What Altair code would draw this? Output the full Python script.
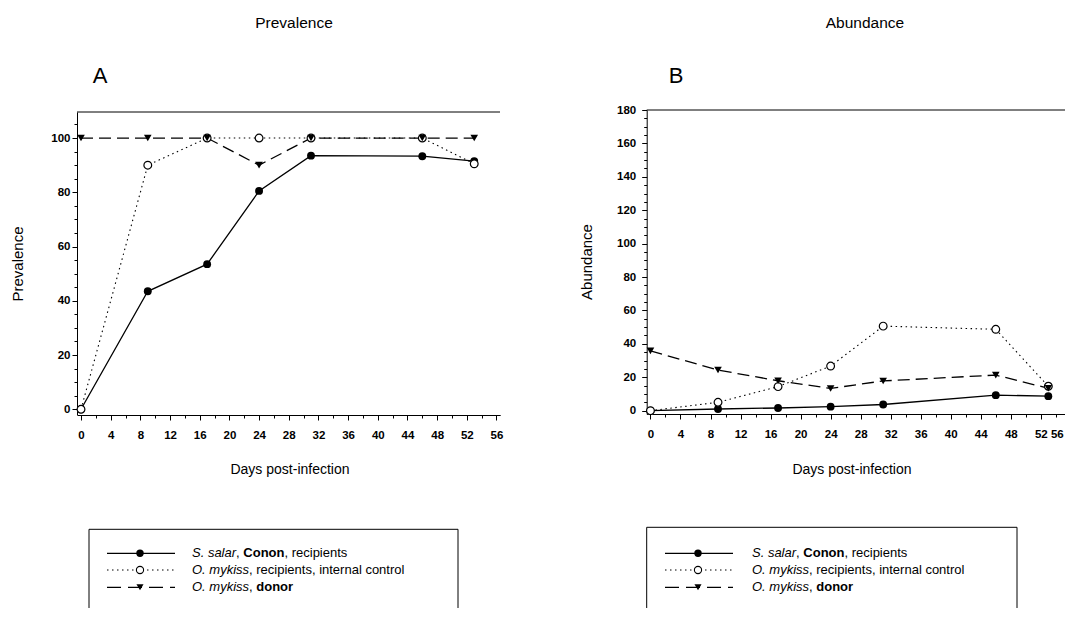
import altair as alt
import pandas as pd

# ---------------- data ----------------
days = [0, 9, 17, 24, 31, 46, 53]

prev_salar = [0, 43.5, 53.5, 80.5, 93.5, 93.3, 91.5]
prev_mykiss = [0, 90, 100, 100, 100, 100, 90.5]
prev_donor = [100, 100, 100, 90, 100, 100, 100]

abun_salar = [0, 1, 1.6, 2.4, 3.7, 9.3, 8.7]
abun_mykiss = [0, 5, 14.4, 26.7, 50.6, 48.7, 14.6]
abun_donor = [35.8, 24.3, 17.9, 13.3, 17.8, 21.3, 13.4]

x_ticks = list(range(0, 57, 2))
prev_ticks = list(range(0, 111, 5))
abun_ticks = list(range(0, 181, 5))

legend_rows = [
    [("S. salar", "italic", "normal"), (", ", "normal", "normal"),
     ("Conon", "normal", "bold"), (", recipients", "normal", "normal")],
    [("O. mykiss", "italic", "normal"),
     (", recipients, internal control", "normal", "normal")],
    [("O. mykiss", "italic", "normal"), (", ", "normal", "normal"),
     ("donor", "normal", "bold")],
]

FONT = "Liberation Sans"
W, H = 1057, 600

# Arial / Liberation Sans advance widths (1/1000 em)
REG = dict(zip(" ,.-SOCabcdefghijklmnopqrstuvwxyz",
               [278, 278, 278, 333, 667, 778, 722, 556, 556, 500, 556, 556, 278, 556,
                556, 222, 222, 500, 222, 833, 556, 556, 556, 556, 333, 500, 278, 556,
                500, 722, 500, 500, 500]))
BOLD = dict(zip(" ,.-SOCabcdefghijklmnopqrstuvwxyz",
                [278, 278, 278, 333, 667, 778, 722, 556, 611, 556, 611, 556, 333, 611,
                 611, 278, 278, 556, 278, 889, 611, 611, 611, 611, 389, 556, 333, 611,
                 556, 778, 556, 556, 500]))


def text_width(s, weight, size):
    table = BOLD if weight == "bold" else REG
    return sum(table.get(ch, 556) for ch in s) / 1000.0 * size


def one():
    return pd.DataFrame({"k": [0]})


def panel(vals_salar, vals_mykiss, vals_donor, y_ticks, x_rng, y_dom, y_rng,
          x_off, y_off, lab_pad, last_shift):
    xs = alt.Scale(domain=[-0.5, 56.5], range=x_rng, nice=False, zero=False)
    ys = alt.Scale(domain=y_dom, range=y_rng, nice=False, zero=False)
    xa = alt.Axis(values=x_ticks, orient="bottom", offset=x_off, title=None,
                  labelExpr="datum.value % 4 === 0 ? datum.label : ''",
                  tickSize={"condition": {"test": "datum.value % 4 === 0", "value": 5}, "value": 3},
                  labelOffset={"condition": {"test": "datum.value === 56", "value": last_shift}, "value": 0},
                  labelPadding=9, labelFont=FONT, labelFontSize=11.5,
                  labelFontWeight="bold", labelColor="black", labelFlush=False,
                  labelOverlap=False, domainColor="black", tickColor="black",
                  grid=False)
    ya = alt.Axis(values=y_ticks, orient="left", offset=y_off, title=None,
                  labelExpr="datum.value % 20 === 0 ? datum.label : ''",
                  tickSize={"condition": {"test": "datum.value % 20 === 0", "value": 5}, "value": 3},
                  labelPadding=lab_pad, labelFont=FONT, labelFontSize=11.5,
                  labelFontWeight="bold", labelColor="black", labelFlush=False,
                  labelOverlap=False, domainColor="black", tickColor="black",
                  grid=False)

    def enc(base):
        return base.encode(x=alt.X("day:Q", scale=xs, axis=xa),
                           y=alt.Y("v:Q", scale=ys, axis=ya))

    d1 = pd.DataFrame({"day": days, "v": vals_salar})
    d2 = pd.DataFrame({"day": days, "v": vals_mykiss})
    d3 = pd.DataFrame({"day": days, "v": vals_donor})

    layers = [
        enc(alt.Chart(d1).mark_line(color="black", strokeWidth=1.3)),
        enc(alt.Chart(d2).mark_line(color="black", strokeWidth=1.1, strokeDash=[1.5, 3.5])),
        enc(alt.Chart(d3).mark_line(color="black", strokeWidth=1.3, strokeDash=[12, 6])),
        enc(alt.Chart(d1).mark_point(shape="circle", filled=True, color="black", size=62, opacity=1)),
        enc(alt.Chart(d2).mark_point(shape="circle", filled=True, fill="white", stroke="black",
                                     strokeWidth=1.2, size=60, opacity=1)),
        enc(alt.Chart(d3).mark_point(shape="triangle-down", filled=True, color="black", size=58, opacity=1)),
    ]
    return layers


def decorations(x_left, x_right, y_top, title, letter, title_x, letter_x,
                ytitle, ytitle_x, ytitle_y, xtitle_x, box, sym, text_x):
    L = []
    # top frame line
    L.append(alt.Chart(one()).mark_rule(color="black", strokeWidth=1).encode(
        x=alt.value(x_left), x2=alt.value(x_right), y=alt.value(y_top)))
    # titles
    L.append(alt.Chart(one()).mark_text(text=title, font=FONT, fontSize=15.5, color="black",
                                        align="center", baseline="alphabetic").encode(
        x=alt.value(title_x), y=alt.value(19.5)))
    L.append(alt.Chart(one()).mark_text(text=letter, font=FONT, fontSize=22, color="black",
                                        align="center", baseline="alphabetic").encode(
        x=alt.value(letter_x), y=alt.value(75)))
    L.append(alt.Chart(one()).mark_text(text=ytitle, font=FONT, fontSize=15, color="black",
                                        align="center", baseline="middle", angle=270).encode(
        x=alt.value(ytitle_x), y=alt.value(ytitle_y)))
    L.append(alt.Chart(one()).mark_text(text="Days post-infection", font=FONT, fontSize=14,
                                        color="black", align="center", baseline="middle").encode(
        x=alt.value(xtitle_x), y=alt.value(462)))
    # legend box (bottom edge runs off the page)
    bl, br, bt = box
    L.append(alt.Chart(one()).mark_rule(color="black", strokeWidth=1).encode(
        x=alt.value(bl), x2=alt.value(br), y=alt.value(bt)))
    L.append(alt.Chart(one()).mark_rule(color="black", strokeWidth=1).encode(
        x=alt.value(bl), y=alt.value(bt), y2=alt.value(H)))
    L.append(alt.Chart(one()).mark_rule(color="black", strokeWidth=1).encode(
        x=alt.value(br), y=alt.value(bt), y2=alt.value(H)))
    # legend symbols
    s0, s1, sm = sym
    rows_y = [545.3, 562, 579.3]
    styles = [
        (dict(strokeWidth=1.3), dict(shape="circle", filled=True, color="black", size=55)),
        (dict(strokeWidth=1.1, strokeDash=[1.5, 3.5]),
         dict(shape="circle", filled=True, fill="white", stroke="black", strokeWidth=1.1, size=52)),
        (dict(strokeWidth=1.3, strokeDash=[14, 7]),
         dict(shape="triangle-down", filled=True, color="black", size=50)),
    ]
    for ry, (ls, ps), segs in zip(rows_y, styles, legend_rows):
        L.append(alt.Chart(one()).mark_rule(color="black", **ls).encode(
            x=alt.value(s0), x2=alt.value(s1), y=alt.value(ry)))
        L.append(alt.Chart(one()).mark_point(opacity=1, **ps).encode(
            x=alt.value(sm), y=alt.value(ry)))
        cx = text_x
        for txt, style, weight in segs:
            L.append(alt.Chart(one()).mark_text(
                text=txt, font=FONT, fontSize=13, fontStyle=style, fontWeight=weight,
                color="black", align="left", baseline="middle").encode(
                x=alt.value(cx), y=alt.value(ry)))
            cx += text_width(txt, weight, 13)
    return L


# Panel A (prevalence)
a_layers = panel(prev_salar, prev_mykiss, prev_donor, prev_ticks,
                 x_rng=[69.3, 492.2], y_dom=[-2.1, 109.6], y_rng=[407, 104],
                 x_off=407 - H, y_off=-69, lab_pad=2, last_shift=0)
a_deco = decorations(69, 492, 104, "Prevalence", "A", 286, 92,
                     "Prevalence", 9.5, 256, 282,
                     box=(81, 450, 521.3), sym=(99, 167, 132), text_x=184)

# Panel B (abundance)
b_layers = panel(abun_salar, abun_mykiss, abun_donor, abun_ticks,
                 x_rng=[638.7, 1066.6], y_dom=[-2.0, 180], y_rng=[406, 102],
                 x_off=406 - H, y_off=-638.7, lab_pad=6, last_shift=-14)
b_deco = decorations(638.7, W, 102, "Abundance", "B", 857, 668,
                     "Abundance", 579, 254, 844,
                     box=(638.7, 1009, 519.3), sym=(657, 725, 690), text_x=744)

panel_a = alt.layer(*a_layers, *a_deco)
panel_b = alt.layer(*b_layers, *b_deco)

chart = alt.layer(panel_a, panel_b).resolve_scale(
    x="independent", y="independent"
).resolve_axis(x="independent", y="independent").properties(
    width=W, height=H, autosize=alt.AutoSizeParams(type="none"), padding=0,
    background="white"
).configure_view(stroke=None)

chart.save("out.html", embed_options={"renderer": "svg", "actions": False})
